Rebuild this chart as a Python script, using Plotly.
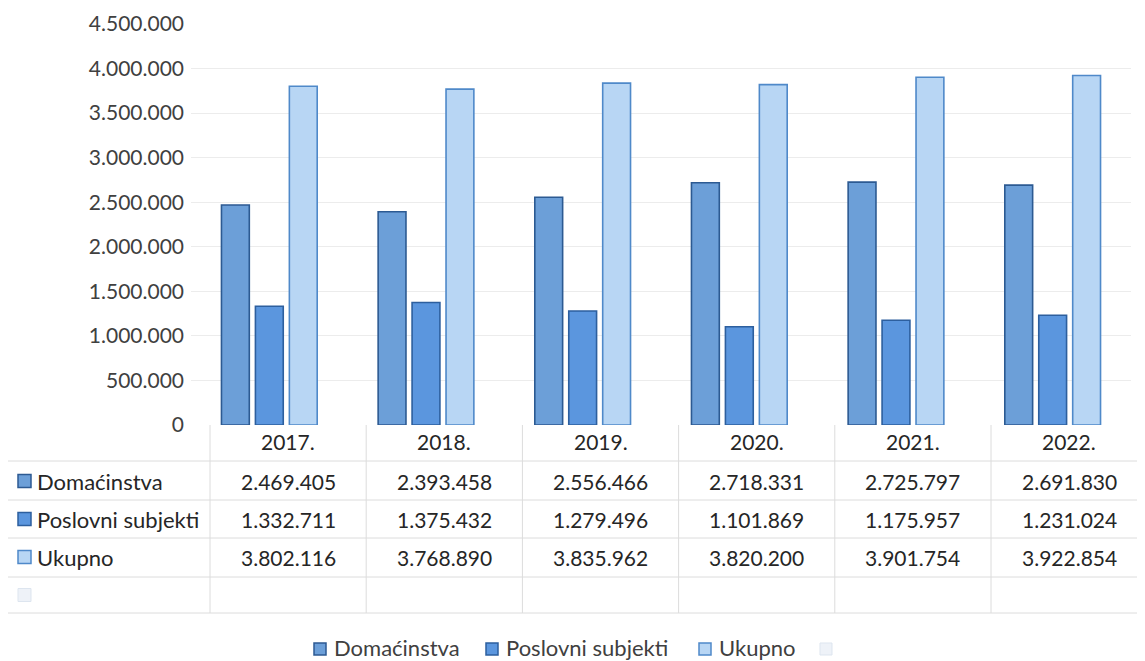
import plotly.graph_objects as go

# ---- data ----
years = ["2017.", "2018.", "2019.", "2020.", "2021.", "2022."]
series_names = ["Domaćinstva", "Poslovni subjekti", "Ukupno"]
domacinstva = [2469405, 2393458, 2556466, 2718331, 2725797, 2691830]
poslovni = [1332711, 1375432, 1279496, 1101869, 1175957, 1231024]
ukupno = [3802116, 3768890, 3835962, 3820200, 3901754, 3922854]
y_ticks = [0, 500000, 1000000, 1500000, 2000000, 2500000, 3000000, 3500000, 4000000, 4500000]

series_values = [domacinstva, poslovni, ukupno]
fills = ["#6c9fd8", "#5b96de", "#b8d6f4"]
borders = ["#2c5a92", "#2d5f9e", "#4f89c9"]
faint_fill, faint_line = "#eef2f8", "#dde5ef"

# the page has an 8px body margin, so the figure is 8px smaller than the window
OFF = 8
FW, FH = 1145 - OFF, 661 - OFF
# plot area in window pixels
L, R, T, B = 191, 1131, 24, 425


def px(x):
    return (x - L) / (R - L)


def py(y):
    return (B - y) / (B - T)


def fmt(v):
    return f"{v:,}".replace(",", ".")


FONT = "Lato"
FS = 21
TXT = "#262626"

fig = go.Figure()
for name, vals, fc, bc in zip(series_names, series_values, fills, borders):
    fig.add_trace(go.Bar(x=years, y=vals, name=name, showlegend=False,
                         marker=dict(color=fc, line=dict(color=bc, width=1.6))))

shapes = []
annotations = []
grid_col = "#dcdcdc"
# table horizontal lines
for yy in [461, 500, 538, 577, 613]:
    shapes.append(dict(type="line", xref="paper", yref="paper",
                       x0=px(8), x1=px(1145), y0=py(yy), y1=py(yy),
                       line=dict(color=grid_col, width=1)))
# table vertical lines
col_edges = [210 + k * 156.2 for k in range(7)]
for xx in col_edges:
    shapes.append(dict(type="line", xref="paper", yref="paper",
                       x0=px(xx), x1=px(xx), y0=py(425), y1=py(613),
                       line=dict(color=grid_col, width=1)))


def icon(x0, yc, fc, bc, lw=1.5, size=13):
    h = size / 2
    shapes.append(dict(type="rect", xref="paper", yref="paper",
                       x0=px(x0), x1=px(x0 + size), y0=py(yc - h), y1=py(yc + h),
                       fillcolor=fc, line=dict(color=bc, width=lw)))


def label(x, y, text, anchor, color=TXT, size=FS):
    annotations.append(dict(xref="paper", yref="paper", x=px(x), y=py(y),
                            text=text, showarrow=False, xanchor=anchor, yanchor="middle",
                            borderpad=0, font=dict(family=FONT, size=size, color=color)))


# year header
row_y = [441, 481, 519, 557]
for i, yr in enumerate(years):
    label(col_edges[i] + 78.1, row_y[0], yr, "center")
for r, (name, vals, fc, bc) in enumerate(zip(series_names, series_values, fills, borders)):
    yy = row_y[r + 1]
    icon(18, yy, fc, bc)
    label(36, yy, name, "left", TXT, 22)
    for i, v in enumerate(vals):
        label(col_edges[i] + 78.1, yy, fmt(v), "center")
# faint 4th row icon
icon(18, 595, faint_fill, faint_line, 1)

# legend (drawn manually, bottom centre)
leg_y = 649
leg_icons = [314, 486, 699]
for xi, name, fc, bc in zip(leg_icons, series_names, fills, borders):
    icon(xi, leg_y, fc, bc, 1.5, 12)
    label(xi + 19, leg_y - 2, name, "left", "#404040", 22)
icon(820, leg_y, faint_fill, faint_line, 1, 12)

fig.update_layout(
    width=FW, height=FH,
    margin=dict(l=L - OFF, r=FW - (R - OFF), t=T - OFF, b=FH - (B - OFF), pad=0, autoexpand=False),
    paper_bgcolor="white", plot_bgcolor="white",
    separators=",.",
    barmode="group", bargap=0.35, bargroupgap=0.18,
    showlegend=False,
    font=dict(family=FONT, size=FS, color="#404040"),
    xaxis=dict(showticklabels=False, showgrid=False, zeroline=False,
               showline=False, range=[-0.5, 5.5], automargin=False),
    yaxis=dict(range=[0, 4500000], tickvals=y_ticks, tickformat=",d",
               showgrid=True, gridcolor="#ececec", gridwidth=1, zeroline=False,
               showline=False, ticks="", ticklabelstandoff=6, automargin=False,
               tickfont=dict(family=FONT, size=FS, color="#404040")),
    shapes=shapes, annotations=annotations,
)

fig.write_html("out.html")
